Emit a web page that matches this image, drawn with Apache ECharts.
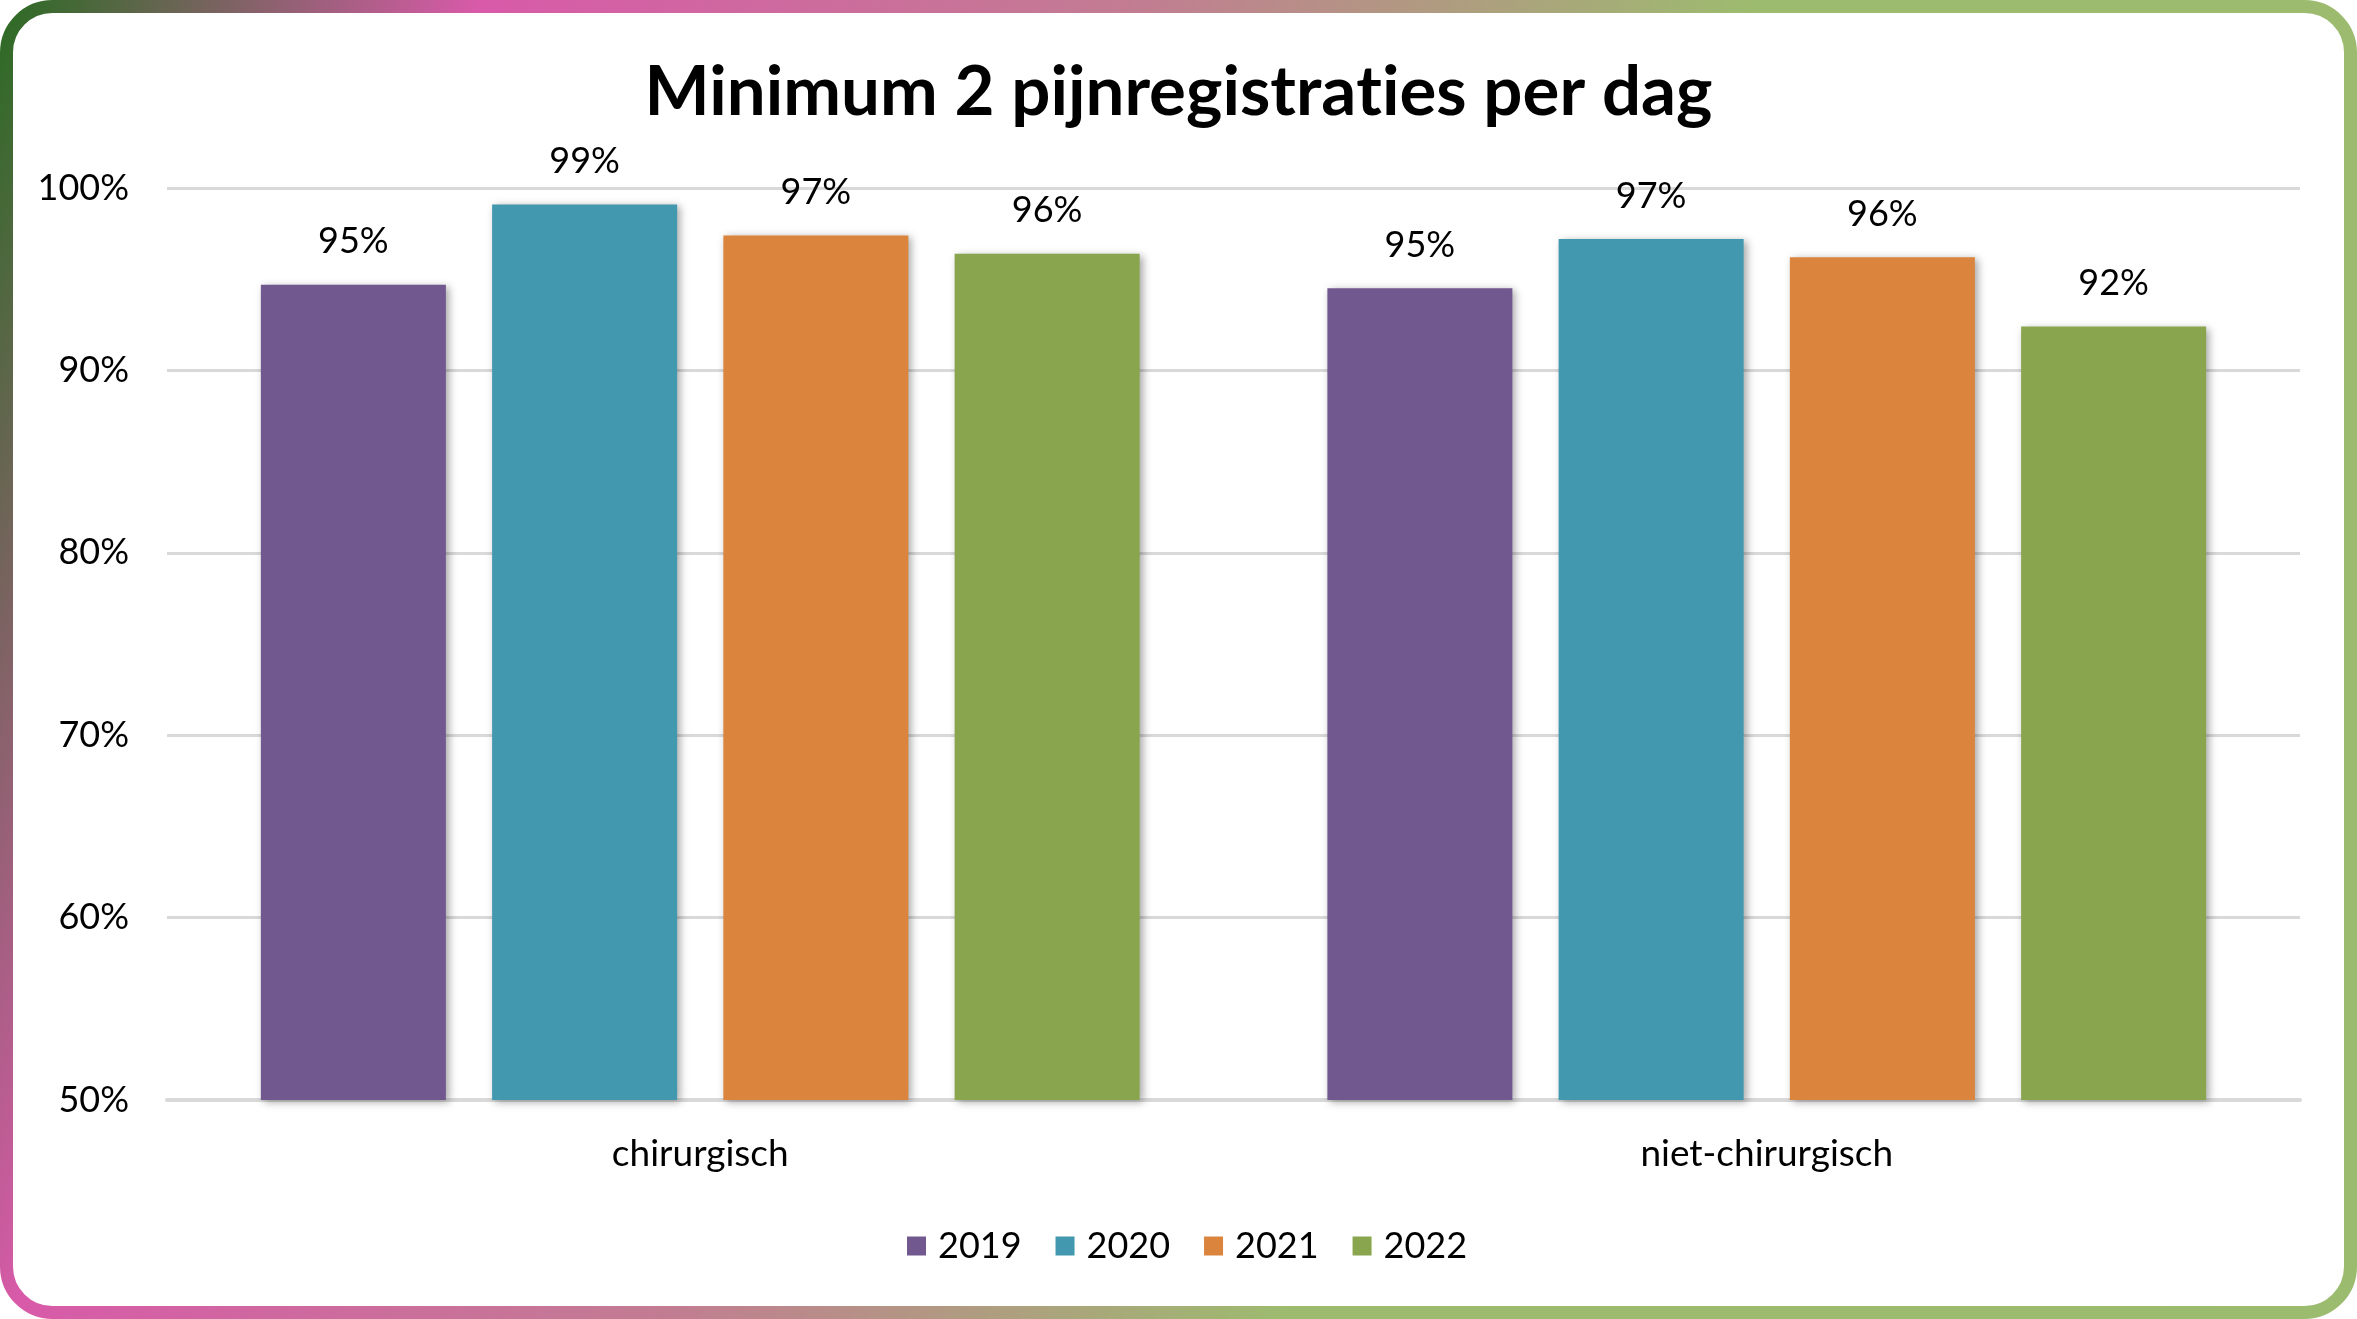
<!DOCTYPE html>
<html>
<head>
<meta charset="utf-8">
<script src="https://cdn.jsdelivr.net/npm/echarts@6/dist/echarts.min.js"></script>
<style>
html,body{margin:0;padding:0;background:#fff;}
#chart{width:2357px;height:1319px;}
</style>
</head>
<body>
<div id="chart"></div>
<script>
const title = 'Minimum 2 pijnregistraties per dag';
const categories = ['chirurgisch', 'niet-chirurgisch'];
const years = ['2019', '2020', '2021', '2022'];
const values2019 = [94.7, 94.5];
const values2020 = [99.1, 97.2];
const values2021 = [97.4, 96.2];
const values2022 = [96.4, 92.4];
const seriesValues = [values2019, values2020, values2021, values2022];
const colors = ['#71588F', '#4198AF', '#DB843D', '#89A54E'];
const yTicks = {min: 50, max: 100, interval: 10};

const FONT = 'Lato';
const chart = echarts.init(document.getElementById('chart'));

// split "ti" into separate rich segments so the font does not draw a ligature
const titleRich = title.split('ti').map(s => '{b|' + s + '}').join('{b|t}{b|i}');

const borderGradient = new echarts.graphic.LinearGradient(0, 0, 2509, 894, [
  {offset: 0, color: '#2a6b22'},
  {offset: 0.17, color: '#d85aa9'},
  {offset: 0.40, color: '#c27c92'},
  {offset: 0.62, color: '#9dbb6f'},
  {offset: 1, color: '#9bbb6e'}
], true);

const titleStyle = {fontFamily: FONT, fontWeight: 'bold', fontSize: 69, color: '#000'};

chart.setOption({
  backgroundColor: '#ffffff',
  animation: false,
  color: colors,
  title: {
    text: titleRich,
    left: 'center',
    top: 53,
    textStyle: Object.assign({rich: {b: titleStyle}}, titleStyle)
  },
  legend: {
    data: years,
    left: 902,
    top: 1223,
    icon: 'rect',
    itemWidth: 19,
    itemHeight: 19,
    itemGap: 34,
    textStyle: {fontFamily: FONT, fontSize: 36, color: '#000', padding: [0, 0, 0, 7]}
  },
  grid: {left: 167, right: 57, top: 188, bottom: 219},
  xAxis: {
    type: 'category',
    data: categories,
    axisLine: {lineStyle: {color: '#d9d9d9', width: 4}},
    axisTick: {show: false},
    axisLabel: {fontFamily: FONT, fontSize: 37, color: '#000', margin: 36}
  },
  yAxis: {
    type: 'value',
    min: yTicks.min,
    max: yTicks.max,
    interval: yTicks.interval,
    axisLine: {show: false},
    axisTick: {show: false},
    splitLine: {lineStyle: {color: '#d9d9d9', width: 3}},
    axisLabel: {fontFamily: FONT, fontSize: 36, color: '#000', margin: 38, formatter: '{value}%'}
  },
  series: years.map((y, i) => ({
    name: y,
    type: 'bar',
    data: seriesValues[i],
    barWidth: 185,
    barGap: '25%',
    itemStyle: {
      color: colors[i],
      shadowColor: 'rgba(0,0,0,0.35)',
      shadowBlur: 8,
      shadowOffsetX: 3,
      shadowOffsetY: 2
    },
    label: {
      show: true,
      position: 'top',
      distance: 25,
      fontFamily: FONT,
      fontSize: 36,
      color: '#000',
      formatter: p => Math.round(p.value) + '%'
    }
  })),
  graphic: [{
    type: 'rect',
    silent: true,
    z: 100,
    shape: {x: 6.5, y: 6.5, width: 2357 - 13, height: 1319 - 13, r: 46},
    style: {fill: 'none', stroke: borderGradient, lineWidth: 13}
  }]
});
</script>
</body>
</html>
